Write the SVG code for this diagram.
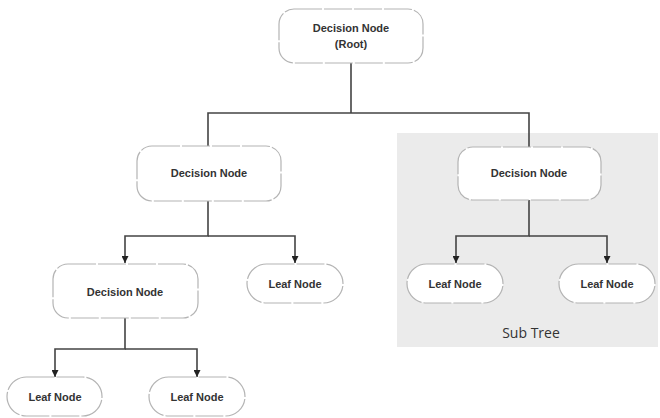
<svg xmlns="http://www.w3.org/2000/svg" width="660" height="418" viewBox="0 0 660 418">
<style>
.node{fill:#fff;stroke:#b4b4b4;stroke-width:1.2;stroke-dasharray:28 2}
.lbl{font-family:"Liberation Sans",Arial,sans-serif;font-weight:bold;font-size:11px;fill:#333;text-anchor:middle}
.conn{fill:none;stroke:#444;stroke-width:1.6}
</style>
<defs>
<marker id="arr" viewBox="0 0 10 10" refX="10" refY="5" markerWidth="7" markerHeight="7" markerUnits="userSpaceOnUse" orient="auto">
<path d="M0,0 L10,5 L0,10 z" fill="#222"/>
</marker>
</defs>
<rect id="subtree-bg" x="397" y="133" width="261" height="214" fill="#ebebeb"/>
<text x="531" y="338" font-family="'Open Sans','Liberation Sans',sans-serif" font-size="14" fill="#333" text-anchor="middle">Sub Tree</text>
<g id="connectors">
<path class="conn" d="M351,63 V113 M208,146 V113 H529 V147"/>
<path class="conn" d="M208,201 V236 H125 V263" marker-end="url(#arr)"/>
<path class="conn" d="M208,236 H295 V263" marker-end="url(#arr)"/>
<path class="conn" d="M125,318 V349 H55 V377" marker-end="url(#arr)"/>
<path class="conn" d="M125,349 H197 V377" marker-end="url(#arr)"/>
<path class="conn" d="M529,200 V236 H456 V263" marker-end="url(#arr)"/>
<path class="conn" d="M529,236 H607 V263" marker-end="url(#arr)"/>
</g>
<g id="root">
<rect class="node" x="279" y="9" width="144" height="54" rx="15"/>
<text class="lbl" x="351" y="32">Decision Node</text>
<text class="lbl" x="351" y="48">(Root)</text>
</g>
<g id="decision-left">
<rect class="node" x="137" y="146" width="144" height="55" rx="15"/>
<text class="lbl" x="209" y="177">Decision Node</text>
</g>
<g id="decision-right">
<rect class="node" x="458" y="147" width="143" height="53" rx="15"/>
<text class="lbl" x="529" y="177">Decision Node</text>
</g>
<g id="decision-bottom">
<rect class="node" x="53" y="264" width="145" height="54" rx="15"/>
<text class="lbl" x="125" y="296">Decision Node</text>
</g>
<g id="leaf-mid">
<rect class="node" x="247" y="264" width="96" height="39" rx="19.5"/>
<text class="lbl" x="295" y="288">Leaf Node</text>
</g>
<g id="leaf-sub-left">
<rect class="node" x="407" y="264" width="96" height="39" rx="19.5"/>
<text class="lbl" x="455" y="288">Leaf Node</text>
</g>
<g id="leaf-sub-right">
<rect class="node" x="559" y="264" width="96" height="39" rx="19.5"/>
<text class="lbl" x="607" y="288">Leaf Node</text>
</g>
<g id="leaf-bottom-left">
<rect class="node" x="7" y="377" width="95" height="39" rx="19.5"/>
<text class="lbl" x="55" y="401">Leaf Node</text>
</g>
<g id="leaf-bottom-right">
<rect class="node" x="149" y="377" width="96" height="39" rx="19.5"/>
<text class="lbl" x="197" y="401">Leaf Node</text>
</g>
</svg>
